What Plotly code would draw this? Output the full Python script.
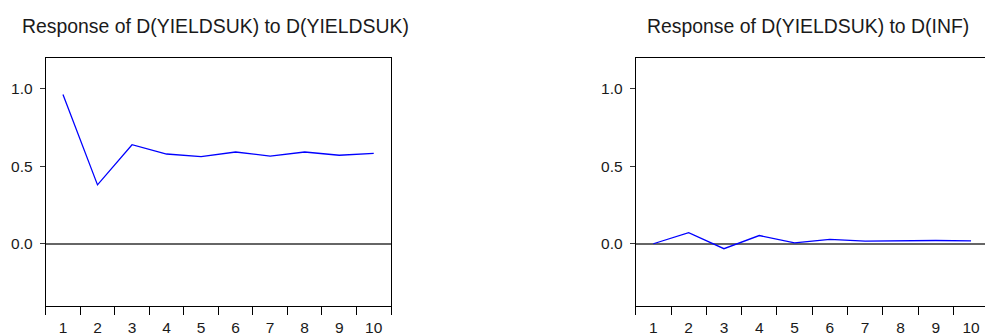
import plotly.graph_objects as go

periods = [1, 2, 3, 4, 5, 6, 7, 8, 9, 10]
resp_yields = [0.963, 0.38, 0.639, 0.579, 0.562, 0.592, 0.566, 0.592, 0.571, 0.583]
resp_inf = [0.0, 0.072, -0.032, 0.053, 0.006, 0.028, 0.017, 0.021, 0.021, 0.019]
titles = ["Response of D(YIELDSUK) to D(YIELDSUK)", "Response of D(YIELDSUK) to D(INF)"]
y_ticks = [0.0, 0.5, 1.0]
y_ticktext = ["0.0", "0.5", "1.0"]

FONT = "Liberation Sans, Arial, sans-serif"
W, H = 985, 336

fig = go.Figure()
fig.add_trace(go.Scatter(x=periods, y=resp_yields, mode="lines",
                         line=dict(color="#0000FF", width=1.3), xaxis="x", yaxis="y"))
fig.add_trace(go.Scatter(x=periods, y=resp_inf, mode="lines",
                         line=dict(color="#0000FF", width=1.3), xaxis="x2", yaxis="y2"))

ydom = [(336 - 308.5) / 336, (336 - 58.3) / 336]


def xaxis_cfg(domain, rng):
    return dict(
        domain=domain, range=rng, tickmode="array", tickvals=periods,
        ticktext=[str(p) for p in periods],
        ticks="outside", ticklen=8, tickcolor="rgba(0,0,0,0)",
        minor=dict(ticks="outside", tick0=0.5, dtick=1, ticklen=8, tickwidth=1, tickcolor="black"),
        showline=True, linecolor="black", linewidth=1, mirror=True,
        showgrid=False, zeroline=False,
        tickfont=dict(family=FONT, size=15.5, color="#1a1a1a"),
    )


def yaxis_cfg(anchor, mirror):
    return dict(
        domain=ydom, range=[-0.4, 1.2], anchor=anchor,
        tickmode="array", tickvals=y_ticks, ticktext=y_ticktext,
        ticks="outside", ticklen=5, tickcolor="#333",
        ticklabelstandoff=4,
        showline=True, linecolor="black", linewidth=1, mirror=mirror,
        showgrid=False, zeroline=True, zerolinecolor="#666666", zerolinewidth=2,
        tickfont=dict(family=FONT, size=15.5, color="#1a1a1a"),
    )


left0, left1 = 45.7 / W, 391.0 / W
right0 = 635.7 / W
right_max = 0.5 + (W - 635.7) / 35.3

fig.update_layout(
    width=W, height=H, margin=dict(l=0, r=0, t=0, b=0),
    paper_bgcolor="white", plot_bgcolor="white", showlegend=False,
    xaxis=xaxis_cfg([left0, left1], [0.5, 10.5]),
    yaxis=yaxis_cfg("x", True),
    xaxis2=dict(xaxis_cfg([right0, 1.0], [0.5, right_max]), anchor="y2"),
    yaxis2=yaxis_cfg("x2", False),
)

for xc, t in zip([215.5 / W, 808.3 / W], titles):
    fig.add_annotation(text=t, x=xc, y=1 - 26.5 / H, xref="paper", yref="paper",
                       xanchor="center", yanchor="middle", showarrow=False,
                       font=dict(family=FONT, size=19.4, color="#1a1a1a"))

fig.write_html(
    "out.html",
    config={"displayModeBar": False, "staticPlot": True},
    post_script="document.body.style.margin='0';document.body.style.overflow='hidden';",
)
